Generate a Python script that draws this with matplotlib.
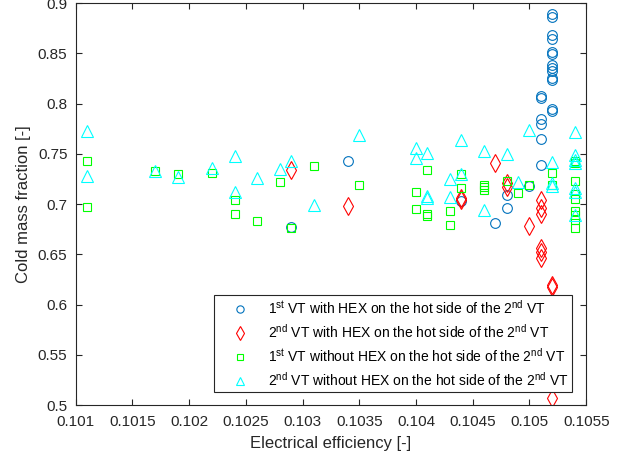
import matplotlib
matplotlib.use("Agg")
import matplotlib.pyplot as plt

plt.rcParams['font.family'] = ['Liberation Sans', 'DejaVu Sans']
plt.rcParams['mathtext.fontset'] = 'custom'
plt.rcParams['mathtext.rm'] = 'Liberation Sans'
plt.rcParams['mathtext.it'] = 'Liberation Sans'

# 1st VT with HEX on the hot side of the 2nd VT
vt1_hex_x = [0.1029, 0.1034, 0.1044, 0.1047, 0.1048, 0.1048, 0.1050,
             0.1051, 0.1051, 0.1051, 0.1051, 0.1051, 0.1051,
             0.1052, 0.1052, 0.1052, 0.1052, 0.1052, 0.1052, 0.1052,
             0.1052, 0.1052, 0.1052, 0.1052, 0.1052, 0.1052]
vt1_hex_y = [0.677, 0.743, 0.703, 0.681, 0.709, 0.696, 0.718,
             0.739, 0.765, 0.780, 0.785, 0.806, 0.808,
             0.889, 0.886, 0.868, 0.864, 0.851, 0.849, 0.839,
             0.836, 0.833, 0.826, 0.824, 0.795, 0.793]

# 2nd VT with HEX on the hot side of the 2nd VT
vt2_hex_x = [0.1029, 0.1034, 0.1044, 0.1044, 0.1047, 0.1048, 0.1048, 0.1050,
             0.1051, 0.1051, 0.1051, 0.1051, 0.1051, 0.1051,
             0.1052, 0.1052, 0.1052]
vt2_hex_y = [0.734, 0.698, 0.706, 0.704, 0.741, 0.721, 0.717, 0.678,
             0.704, 0.696, 0.690, 0.656, 0.652, 0.646,
             0.620, 0.618, 0.507]

# 1st VT without HEX on the hot side of the 2nd VT
vt1_nohex_x = [0.1011, 0.1011, 0.1017, 0.1019, 0.1022, 0.1024, 0.1024, 0.1026,
               0.1028, 0.1029, 0.1031, 0.1035, 0.1040, 0.1040,
               0.1041, 0.1041, 0.1041, 0.1043, 0.1043, 0.1044, 0.1044,
               0.1046, 0.1046, 0.1046, 0.1048, 0.1049, 0.1050, 0.1052, 0.1052,
               0.1054, 0.1054, 0.1054, 0.1054, 0.1054, 0.1054, 0.1054,
               0.1054, 0.1054]
vt1_nohex_y = [0.743, 0.697, 0.733, 0.730, 0.731, 0.704, 0.690, 0.683,
               0.722, 0.676, 0.738, 0.719, 0.712, 0.695,
               0.734, 0.690, 0.688, 0.693, 0.679, 0.730, 0.716,
               0.719, 0.717, 0.714, 0.723, 0.711, 0.719, 0.731, 0.719,
               0.743, 0.741, 0.723, 0.710, 0.705, 0.693, 0.689,
               0.684, 0.676]

# 2nd VT without HEX on the hot side of the 2nd VT
vt2_nohex_x = [0.1011, 0.1011, 0.1017, 0.1019, 0.1022, 0.1024, 0.1024, 0.1026,
               0.1028, 0.1029, 0.1031, 0.1035, 0.1040, 0.1040,
               0.1041, 0.1041, 0.1041, 0.1043, 0.1043, 0.1044, 0.1044,
               0.1046, 0.1046, 0.1048, 0.1049, 0.1050,
               0.1052, 0.1052, 0.1052,
               0.1054, 0.1054, 0.1054, 0.1054, 0.1054, 0.1054, 0.1054]
vt2_nohex_y = [0.773, 0.728, 0.733, 0.727, 0.736, 0.748, 0.712, 0.726,
               0.735, 0.743, 0.699, 0.769, 0.756, 0.746,
               0.751, 0.708, 0.706, 0.725, 0.707, 0.764, 0.730,
               0.753, 0.694, 0.750, 0.722, 0.774,
               0.742, 0.721, 0.718,
               0.772, 0.749, 0.744, 0.741, 0.716, 0.712, 0.689]

labels = [r'1$^{\rm st}$ VT with HEX on the hot side of the 2$^{\rm nd}$ VT',
          r'2$^{\rm nd}$ VT with HEX on the hot side of the 2$^{\rm nd}$ VT',
          r'1$^{\rm st}$ VT without HEX on the hot side of the 2$^{\rm nd}$ VT',
          r'2$^{\rm nd}$ VT without HEX on the hot side of the 2$^{\rm nd}$ VT']

x_ticks = [0.101, 0.1015, 0.102, 0.1025, 0.103, 0.1035, 0.104, 0.1045, 0.105, 0.1055]
x_ticklabels = ['0.101', '0.1015', '0.102', '0.1025', '0.103', '0.1035',
                '0.104', '0.1045', '0.105', '0.1055']
y_ticks = [0.5, 0.55, 0.6, 0.65, 0.7, 0.75, 0.8, 0.85, 0.9]
y_ticklabels = ['0.5', '0.55', '0.6', '0.65', '0.7', '0.75', '0.8', '0.85', '0.9']

fig = plt.figure(figsize=(6.31, 4.61), dpi=100)
ax = fig.add_axes([0.120, 0.121, 0.809, 0.872])

ax.plot(vt1_hex_x, vt1_hex_y, 'o', ls='none', mfc='none', mec='#0072BD',
        ms=7, mew=0.8, label=labels[0])
ax.plot(vt2_hex_x, vt2_hex_y, 'd', ls='none', mfc='none', mec='red',
        ms=9, mew=0.8, label=labels[1])
ax.plot(vt1_nohex_x, vt1_nohex_y, 's', ls='none', mfc='none', mec='#00ff00',
        ms=6, mew=0.8, label=labels[2])
ax.plot(vt2_nohex_x, vt2_nohex_y, '^', ls='none', mfc='none', mec='cyan',
        ms=8, mew=0.8, label=labels[3])

ax.set_xlim(0.101, 0.1055)
ax.set_ylim(0.5, 0.9)
ax.set_xticks(x_ticks)
ax.set_xticklabels(x_ticklabels)
ax.set_yticks(y_ticks)
ax.set_yticklabels(y_ticklabels)

gray = '#262626'
for s in ax.spines.values():
    s.set_color(gray)
    s.set_linewidth(0.8)
ax.tick_params(direction='in', top=True, right=True, length=4, width=0.8,
               colors=gray, labelsize=11)
ax.tick_params(axis='x', pad=7)
ax.tick_params(axis='y', pad=6)
ax.set_xlabel('Electrical efficiency [-]', fontsize=12, color=gray, labelpad=5)
ax.set_ylabel('Cold mass fraction [-]', fontsize=12, color=gray, labelpad=5)

leg = ax.legend(loc='lower right', bbox_to_anchor=(0.973, 0.032), fontsize=10,
                frameon=True, fancybox=False, framealpha=1, edgecolor=gray,
                handlelength=3.3, handletextpad=0.4, labelspacing=0.45,
                borderpad=0.25, borderaxespad=0, markerscale=0.75, numpoints=1)
leg.get_frame().set_linewidth(0.8)

fig.savefig('out.png', dpi=100)
